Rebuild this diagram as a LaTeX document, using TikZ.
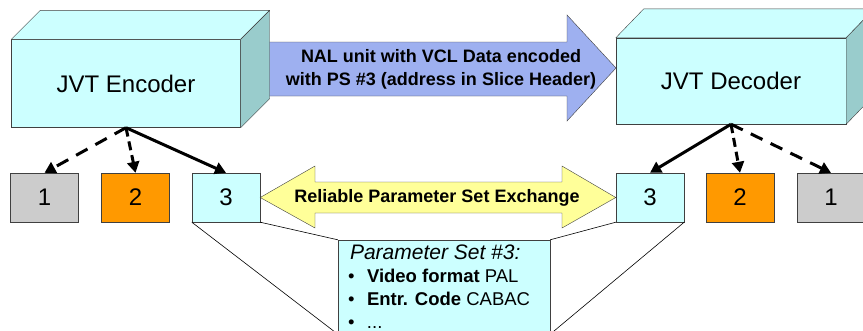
\documentclass[tikz,border=0pt]{standalone}
\usepackage{fontspec}
\setmainfont{Liberation Sans}
\usetikzlibrary{arrows.meta,positioning,calc}
\definecolor{CubeFront}{HTML}{CCFFFF}
\definecolor{CubeSide}{HTML}{99CCCC}
\definecolor{PsGray}{HTML}{CCCCCC}
\definecolor{PsOrange}{HTML}{FF9900}
\definecolor{ExYellow}{HTML}{FFFF99}
\definecolor{NalBlue}{RGB}{158,176,240}
\definecolor{EdgeGray}{HTML}{404040}

\begin{document}
\begin{tikzpicture}[x=1pt, y=-1pt,
    cube/.style={rectangle, draw=EdgeGray, fill=CubeFront, inner sep=0pt,
                 minimum width=229pt, minimum height=88pt,
                 font=\fontsize{24}{28}\selectfont},
    topface/.style={draw=EdgeGray, fill=CubeFront, line join=round},
    sideface/.style={draw=EdgeGray, fill=CubeSide, line join=round},
    psbox/.style={rectangle, draw=EdgeGray, inner sep=0pt,
                  minimum width=68pt, minimum height=49pt,
                  font=\fontsize{24}{28}\selectfont},
    blockarr/.style={draw=EdgeGray, line join=miter},
    callout/.style={draw=black, line width=0.6pt},
    conn/.style={-{Triangle[length=11pt,width=12pt]}, line width=3pt, black},
    longdash/.style={dash pattern=on 13pt off 9pt},
    shortdash/.style={dash pattern=on 9pt off 5pt}
  ]
    \useasboundingbox (0,0) rectangle (863,330);
    \clip (0,0) rectangle (863,330);

    % NAL unit arrow (runs behind the encoder)
    \draw[blockarr, fill=NalBlue] (250,42) -- (567,42) -- (567,15) -- (616,68)
      -- (567,121) -- (567,96) -- (250,96) -- cycle;
    \node[font=\bfseries\fontsize{18}{23}\selectfont, align=center] (nal) at (441,69)
      {NAL unit with VCL Data encoded\\with PS \#3 (address in Slice Header)};

    % encoder and decoder
    \node[cube] (enc) at (126,83.5) {JVT Encoder};
    \draw[topface] (enc.north west) -- ++(29,-29) -- ($(enc.north east)+(29,-29)$)
      -- (enc.north east) -- cycle;
    \draw[sideface] (enc.north east) -- ++(29,-29) -- ($(enc.south east)+(29,-29)$)
      -- (enc.south east) -- cycle;

    \node[cube, minimum width=230pt, minimum height=86pt] (dec) at (731,81) {JVT Decoder};
    \draw[topface] (dec.north west) -- ++(28,-29) -- ($(dec.north east)+(28,-29)$)
      -- (dec.north east) -- cycle;
    \draw[sideface] (dec.north east) -- ++(28,-29) -- ($(dec.south east)+(28,-29)$)
      -- (dec.south east) -- cycle;

    % parameter set stores
    \node[psbox, fill=PsGray] (e1) at (44.5,197.5) {1};
    \node[psbox, fill=PsOrange] (e2) at (135.5,197.5) {2};
    \node[psbox, fill=CubeFront] (e3) at (226,197.5) {3};
    \node[psbox, fill=CubeFront] (d3) at (650,197.5) {3};
    \node[psbox, fill=PsOrange] (d2) at (740,197.5) {2};
    \node[psbox, fill=PsGray] (d1) at (831,197.5) {1};

    \draw[conn, longdash] (enc.south) -- (e1.north);
    \draw[conn, shortdash] (enc.south) -- (e2.north);
    \draw[conn] (enc.south) -- (e3.north);
    \draw[conn] (dec.south) -- (d3.north);
    \draw[conn, shortdash] (dec.south) -- (d2.north);
    \draw[conn, longdash] (dec.south) -- (d1.north);

    % reliable exchange
    \draw[blockarr, fill=ExYellow] (e3.east) -- (315,166) -- (315,182) -- (562,182)
      -- (562,166) -- (d3.west) -- (562,228) -- (562,213) -- (315,213)
      -- (315,228) -- cycle;
    \node[font=\bfseries\fontsize{18}{22}\selectfont] (rpse) at (437,197.5)
      {Reliable Parameter Set Exchange};

    % parameter set #3
    \node[rectangle, draw=EdgeGray, fill=CubeFront, minimum width=212pt,
          minimum height=94pt, inner sep=0pt] (ps3) at (444,287) {};
    \draw[callout] (e3.south west) -- (ps3.south west);
    \draw[callout] (e3.south east) -- (ps3.north west);
    \draw[callout] (d3.south west) -- (ps3.north east);
    \draw[callout] (d3.south east) -- (ps3.south east);
    \node[anchor=north west, align=left, inner sep=0pt,
          font=\fontsize{18.5}{23}\selectfont] (ps3txt) at ($(ps3.north west)+(12,5)$)
      {{\fontsize{21}{23}\selectfont\itshape Parameter Set \#3:}\\
       \hspace*{-2pt}\makebox[19pt][l]{\textbullet}\textbf{Video format} PAL\\
       \hspace*{-2pt}\makebox[19pt][l]{\textbullet}\textbf{Entr. Code} CABAC\\
       \hspace*{-2pt}\makebox[19pt][l]{\textbullet}...};
\end{tikzpicture}
\end{document}
